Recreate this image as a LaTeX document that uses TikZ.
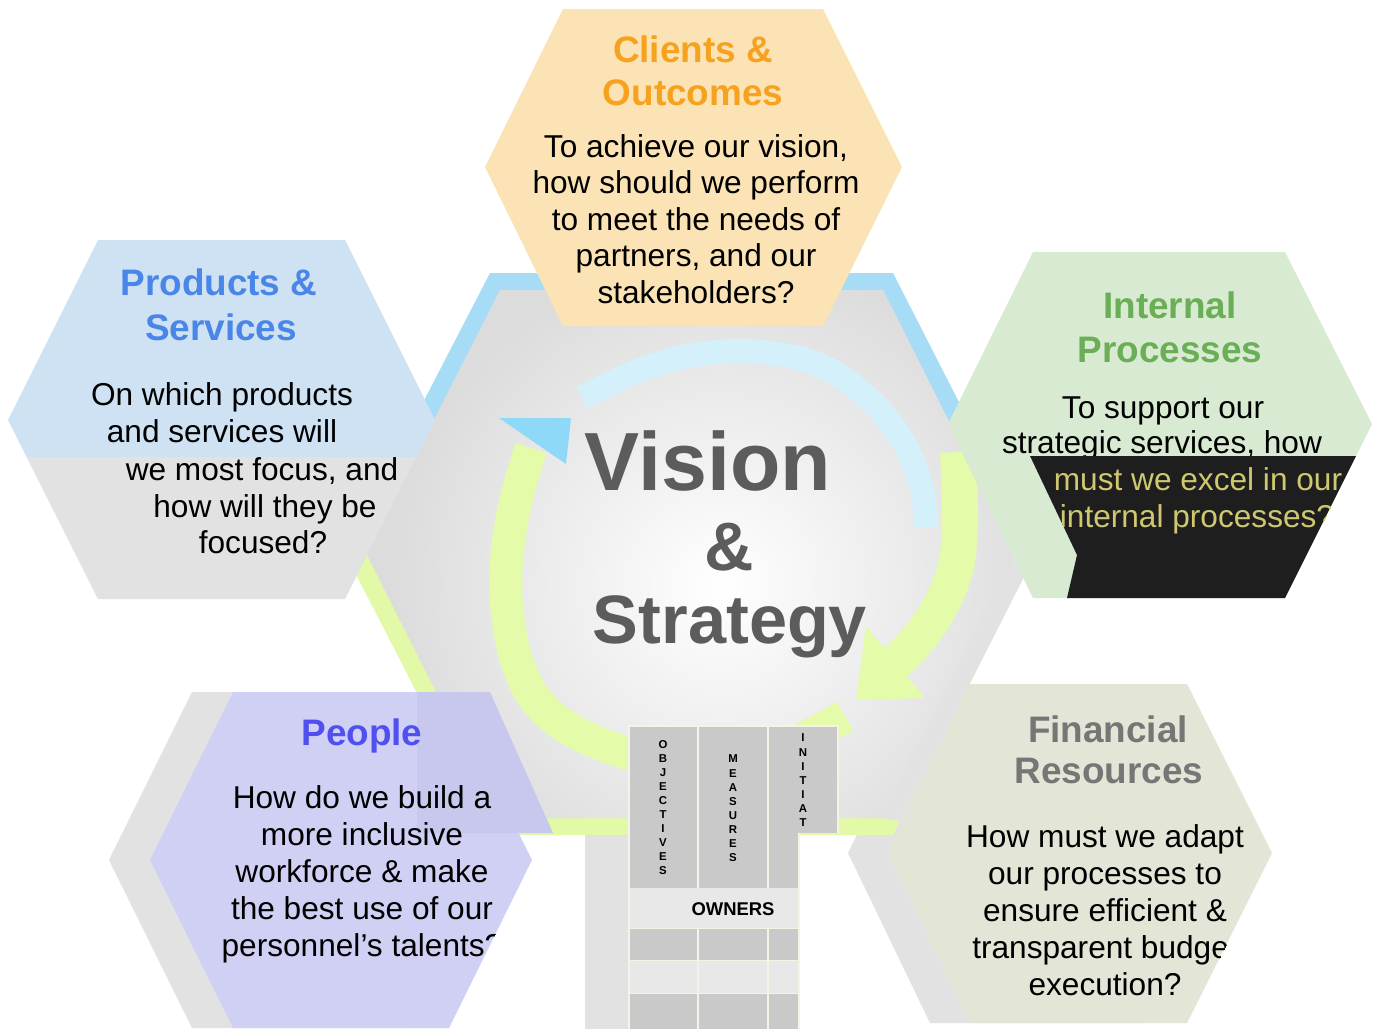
\documentclass[tikz,border=0pt]{standalone}
\usepackage{fontspec}
\setmainfont{Liberation Sans}
\definecolor{clientfill}{HTML}{FBE3B6}
\definecolor{clienttitle}{HTML}{F7A21E}
\definecolor{prodfill}{HTML}{CFE2F3}
\definecolor{prodtitle}{HTML}{4A86E8}
\definecolor{intfill}{HTML}{D9EAD3}
\definecolor{inttitle}{HTML}{6AAE55}
\definecolor{peoplefill}{HTML}{D0D0F4}
\definecolor{peopledark}{HTML}{C8C8EF}
\definecolor{peopletitle}{HTML}{5050F0}
\definecolor{finfill}{HTML}{E3E5D6}
\definecolor{fintitle}{HTML}{767676}
\definecolor{shadowgrey}{HTML}{E2E2E2}
\definecolor{hexblue}{HTML}{A6DCF6}
\definecolor{hexlime}{HTML}{E2F9A8}
\definecolor{ringlime}{HTML}{E4FBAA}
\definecolor{ringblue}{HTML}{D4F0FB}
\definecolor{headblue}{HTML}{8ED8F8}
\definecolor{visiongrey}{HTML}{5C5C5C}
\definecolor{cellgrey}{HTML}{C9C9C9}
\definecolor{celllight}{HTML}{E8E8E8}
\definecolor{cellline}{HTML}{F3F3E6}
\definecolor{innergrey}{HTML}{DCDCDC}
\definecolor{outlineyellow}{HTML}{CFC870}
\definecolor{blackzone}{HTML}{1E1E1E}
\begin{document}
\begin{tikzpicture}[x=0.02cm, y=-0.02cm,
  body/.style={font=\fontsize{18}{21}\selectfont, anchor=base, inner sep=0pt, text=black},
  ttl/.style={font=\fontsize{21}{25}\selectfont\bfseries, anchor=base, inner sep=0pt},
  vst/.style={text=visiongrey, anchor=base, inner sep=0pt},
  tletter/.style={font=\fontsize{6.5}{7}\selectfont\bfseries, inner sep=0pt, text=black}]
\useasboundingbox (0,0) rectangle (1375,1029);
\fill[white] (0,0) rectangle (1375,1029);

% ---- Financial shadow hexagon
\fill[shadowgrey] (848,853) -- (930,684) -- (1147,684) -- (1232,853) -- (1147,1023) -- (930,1023) -- cycle;

% ---- central hexagon: border (blue top, lime bottom)
\begin{scope}
  \clip (0,0) rectangle (1375,553);
  \fill[hexblue] (345,553) -- (490,273) -- (893,273) -- (1036,553) -- (893,835) -- (490,835) -- cycle;
\end{scope}
\begin{scope}
  \clip (0,553) rectangle (1375,1029);
  \fill[hexlime] (345,553) -- (490,273) -- (893,273) -- (1036,553) -- (893,835) -- (490,835) -- cycle;
\end{scope}
\fill[shadowgrey] (1036,553) -- (900,821) -- (881,818) -- (1015,553) -- cycle;
\fill[innergrey] (366,553) -- (500,290) -- (883,290) -- (1015,553) -- (881,818) -- (500,818) -- cycle;
\begin{scope}
  \clip (366,553) -- (500,290) -- (883,290) -- (1015,553) -- (881,818) -- (500,818) -- cycle;
  \shade[inner color=white, outer color=innergrey] (722,585) circle[radius=330];
\end{scope}

% ---- circular arrows
\draw[ringblue, line width=0.48cm] plot[smooth, tension=0.6] coordinates {(582,398) (640,370) (700,354) (760,352) (820,365) (870,400) (905,445) (922,490) (926,527)};
\draw[ringlime, line width=0.72cm] plot[smooth, tension=0.6] coordinates {(958,452) (960,520) (955,570) (937,612) (913,645) (893,664)};
\fill[ringlime] (866,626) -- (925,698) -- (856,700) -- cycle;
\draw[ringlime, line width=0.66cm] plot[smooth, tension=0.6] coordinates {(845,716) (790,745) (733,760) (680,762) (627,753) (575,732) (540,705) (518,665) (507,610) (507,555) (516,500) (531,448)};
\fill[headblue] (499,418) -- (571,418) -- (566,464) -- cycle;

% ---- Vision & Strategy
\node[vst, font=\fontsize{47}{50}\selectfont\bfseries] (vision) at (708,490) {Vision};
\node[vst, font=\fontsize{39}{42}\selectfont\bfseries] (amp) at (729,570) {\&};
\node[vst, font=\fontsize{39}{42}\selectfont\bfseries] (strategy) at (730,643) {Strategy};

% ---- Clients & Outcomes
\fill[clientfill] (485,167) -- (563,9) -- (823,9) -- (902,167) -- (823,326) -- (563,326) -- cycle;
\node[ttl, text=clienttitle] (ct1) at (693,62) {Clients \&};
\node[ttl, text=clienttitle] (ct2) at (693,105) {Outcomes};
\foreach \t [count=\i] in {{To achieve our vision,}, {how should we perform}, {to meet the needs of}, {partners, and our}, {stakeholders?}}
  \node[body] (cb\i) at (696,{157+(\i-1)*36.5}) {\t};

% ---- Products & Services
\begin{scope}
  \clip (0,0) rectangle (1375,457);
  \fill[prodfill] (8,420) -- (98,240) -- (345,240) -- (435,420) -- (345,599) -- (98,599) -- cycle;
\end{scope}
\begin{scope}
  \clip (0,457) rectangle (1375,1029);
  \fill[shadowgrey] (8,420) -- (98,240) -- (345,240) -- (435,420) -- (345,599) -- (98,599) -- cycle;
\end{scope}
\node[ttl, text=prodtitle] (pt1) at (219,295) {Products \&};
\node[ttl, text=prodtitle] (pt2) at (221,340) {Services};
\node[body] (pb1) at (222,405) {On which products};
\node[body] (pb2) at (222,442) {and services will};
\node[body] (pb3) at (262,480) {we most focus, and};
\node[body] (pb4) at (265,517) {how will they be};
\node[body] (pb5) at (263,553) {focused?};

% ---- Internal Processes
\fill[intfill] (948,424) -- (1033,252) -- (1285,252) -- (1372,424) -- (1285,598) -- (1033,598) -- cycle;
\node[ttl, text=inttitle] (it1) at (1170,318) {Internal};
\node[ttl, text=inttitle] (it2) at (1170,362) {Processes};
\node[body] (ib1) at (1163,418) {To support our};
\node[body] (ib2) at (1162,453) {strategic services, how};
\fill[blackzone] (1030,456) -- (1356,456) -- (1285,598) -- (1067,598) -- (1077,555) -- cycle;
\begin{scope}
  \clip (1030,456) -- (1356,456) -- (1285,598) -- (1067,598) -- (1077,555) -- cycle;
  \node[body, text=outlineyellow] (ib3) at (1198,490) {must we excel in our};
  \node[body, text=outlineyellow] (ib4) at (1197,527) {internal processes?};
\end{scope}

% ---- People
\fill[shadowgrey] (109,860) -- (192,692) -- (408,692) -- (491,860) -- (408,1028) -- (192,1028) -- cycle;
\fill[peoplefill] (150,860) -- (233,692) -- (449,692) -- (532,860) -- (449,1028) -- (233,1028) -- cycle;
\fill[peopledark] (417,692) -- (490,692) -- (553,833) -- (417,833) -- cycle;
\node[ttl, text=peopletitle] (pp0) at (362,745) {People};
\begin{scope}
  \clip (150,860) -- (233,692) -- (449,692) -- (532,860) -- (449,1028) -- (233,1028) -- cycle;
  \foreach \t [count=\i] in {{How do we build a}, {more inclusive}, {workforce \& make}, {the best use of our}, {personnel’s talents?}}
    \node[body] (pp\i) at (362,{808+(\i-1)*37}) {\t};
\end{scope}

% ---- Financial Resources
\fill[finfill] (888,853) -- (970,684) -- (1187,684) -- (1272,853) -- (1187,1023) -- (970,1023) -- cycle;
\node[ttl, text=fintitle] (ft1) at (1108,742) {Financial};
\node[ttl, text=fintitle] (ft2) at (1109,783) {Resources};
\begin{scope}
  \clip (888,853) -- (970,684) -- (1187,684) -- (1272,853) -- (1187,1023) -- (970,1023) -- cycle;
  \foreach \t [count=\i] in {{How must we adapt}, {our processes to}, {ensure efficient \&}, {transparent budget}, {execution?}}
    \node[body] (fb\i) at (1105,{847+(\i-1)*37}) {\t};
\end{scope}

% ---- table
\fill[shadowgrey] (585,835) rectangle (630,1029);
\fill[cellline] (628,725) rectangle (839,833);
\fill[cellline] (628,833) rectangle (800,1029);
\fill[cellgrey] (630,727) rectangle (697,888);
\fill[cellgrey] (699,727) rectangle (767,888);
\fill[cellgrey] (769,727) rectangle (837,833);
\fill[cellgrey] (769,833) rectangle (798,888);
\fill[celllight] (630,888) rectangle (798,928);
\foreach \ya/\yb/\c in {929/960/cellgrey, 961/993/celllight, 994/1029/cellgrey} {
  \fill[\c] (630,\ya) rectangle (697,\yb);
  \fill[\c] (699,\ya) rectangle (767,\yb);
  \fill[\c] (769,\ya) rectangle (798,\yb);
}
\node[font=\fontsize{10.5}{12}\selectfont\bfseries, inner sep=0pt] (owners) at (733,909) {OWNERS};
\foreach \l [count=\i] in {O,B,J,E,C,T,I,V,E,S}
  \node[tletter] (obj\i) at (663,{745+(\i-1)*13.9}) {\l};
\foreach \l [count=\i] in {M,E,A,S,U,R,E,S}
  \node[tletter] (mea\i) at (733,{759+(\i-1)*14.1}) {\l};
\begin{scope}
  \clip (760,720) rectangle (845,831);
  \foreach \l [count=\i] in {I,N,I,T,I,A,T,I,V,E,S}
    \node[tletter] (ini\i) at (803,{738+(\i-1)*14.1}) {\l};
\end{scope}
\end{tikzpicture}
\end{document}
